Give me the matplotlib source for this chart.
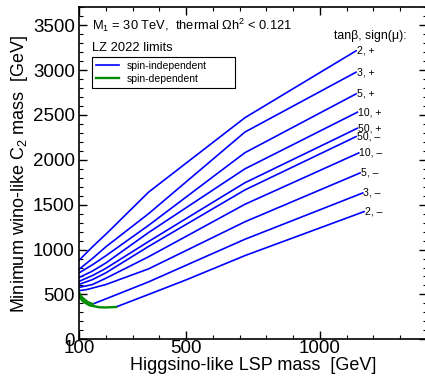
import matplotlib
matplotlib.use("Agg")
import matplotlib.pyplot as plt
from matplotlib.ticker import MultipleLocator
from matplotlib.lines import Line2D

plt.rcParams['font.family'] = ['Liberation Sans', 'DejaVu Sans']
plt.rcParams['mathtext.fontset'] = 'custom'
plt.rcParams['mathtext.rm'] = 'Liberation Sans'
plt.rcParams['mathtext.it'] = 'Liberation Sans:italic'

# curve labels (tanb, sign(mu))
labels = ['2, +', '3, +', '5, +', '10, +', '50, +',
          '50, \u2013', '10, \u2013', '5, \u2013', '3, \u2013', '2, \u2013']

# blue parts: higgsino-like LSP mass [GeV] vs minimum wino-like C2 mass [GeV]
x_si = [
    [100, 150, 200, 360, 500, 720, 1135],
    [100, 150, 200, 360, 500, 720, 1135],
    [100, 150, 200, 360, 500, 720, 1135],
    [100, 150, 200, 360, 500, 720, 1140],
    [100, 150, 200, 360, 500, 720, 1140],
    [100, 150, 200, 360, 500, 720, 1135],
    [100, 150, 200, 360, 500, 720, 1145],
    [100, 130, 200, 360, 500, 720, 1150],
    [151, 200, 360, 500, 720, 1160],
    [238, 360, 500, 720, 1165],
]
y_si = [
    [880, 1030, 1170, 1640, 1963, 2470, 3215],
    [780, 900, 1030, 1400, 1754, 2310, 2977],
    [740, 830, 930, 1270, 1585, 2080, 2735],
    [688, 760, 850, 1190, 1466, 1900, 2531],
    [646, 710, 790, 1090, 1345, 1745, 2352],
    [612, 665, 740, 1035, 1280, 1665, 2259],
    [578, 610, 680, 920, 1147, 1505, 2077],
    [542, 555, 610, 785, 989, 1310, 1854],
    [393, 450, 640, 825, 1115, 1631],
    [360, 500, 662, 933, 1423],
]

# green parts (spin-dependent limit dominates)
x_sd = [
    [100, 105, 114, 132, 151],
    [100, 105, 114, 139, 176, 200, 238],
]
y_sd = [
    [525, 490, 460, 416, 393],
    [505, 460, 424, 379, 357, 355, 360],
]

fig = plt.figure(figsize=(4.25, 3.76), dpi=100)
ax = fig.add_axes([79 / 425, 36.7 / 376, 348 / 425, 332 / 376])

for xs, ys, lab in zip(x_si, y_si, labels):
    ax.plot(xs, ys, color='#0000ff', lw=1.2, solid_joinstyle='round')
    ax.text(xs[-1] + 2, ys[-1], lab, fontsize=7.6, ha='left', va='center')

for xs, ys in zip(x_sd, y_sd):
    ax.plot(xs, ys, color='#008c00', lw=1.7)

ax.set_xlim(100, 1400)
ax.set_ylim(0, 3700)
ax.set_xticks([100, 500, 1000])
ax.xaxis.set_minor_locator(MultipleLocator(100))
ax.yaxis.set_major_locator(MultipleLocator(500))
ax.yaxis.set_minor_locator(MultipleLocator(100))
ax.tick_params(which='both', direction='in', top=True, right=True, labelsize=13.5)
ax.tick_params(which='major', length=6, width=1)
ax.tick_params(which='minor', length=3, width=0.8)
ax.tick_params(axis='x', pad=0.5)
ax.tick_params(axis='y', pad=3)
for s in ax.spines.values():
    s.set_linewidth(1.2)

ax.set_xlabel('Higgsino-like LSP mass  [GeV]', fontsize=13, labelpad=0)
ax.set_ylabel('Minimum wino-like C$_2$ mass  [GeV]', fontsize=13, labelpad=2)

ax.text(0.037, 0.947, 'M$_1$ = 30 TeV,  thermal \u03a9h$^2$ < 0.121', fontsize=9.3,
        ha='left', va='center', transform=ax.transAxes)
ax.text(0.037, 0.877, 'LZ 2022 limits', fontsize=9.3, ha='left', va='center',
        transform=ax.transAxes)
ax.text(0.733, 0.913, 'tan\u03b2, sign(\u03bc):', fontsize=8.8, ha='left', va='center',
        transform=ax.transAxes)

handles = [Line2D([], [], color='#0000ff', lw=1.2), Line2D([], [], color='#008c00', lw=1.7)]
leg = ax.legend(handles, ['spin-independent', 'spin-dependent'], loc='upper left',
                bbox_to_anchor=(0.0374, 0.754, 0.411, 0.096), mode='expand',
                fontsize=7.5, fancybox=False, edgecolor='black', framealpha=1,
                handlelength=2.2, borderpad=0.35, labelspacing=0.3,
                handletextpad=0.8, borderaxespad=0)
leg.get_frame().set_linewidth(0.8)

fig.savefig('out.png', dpi=100)
